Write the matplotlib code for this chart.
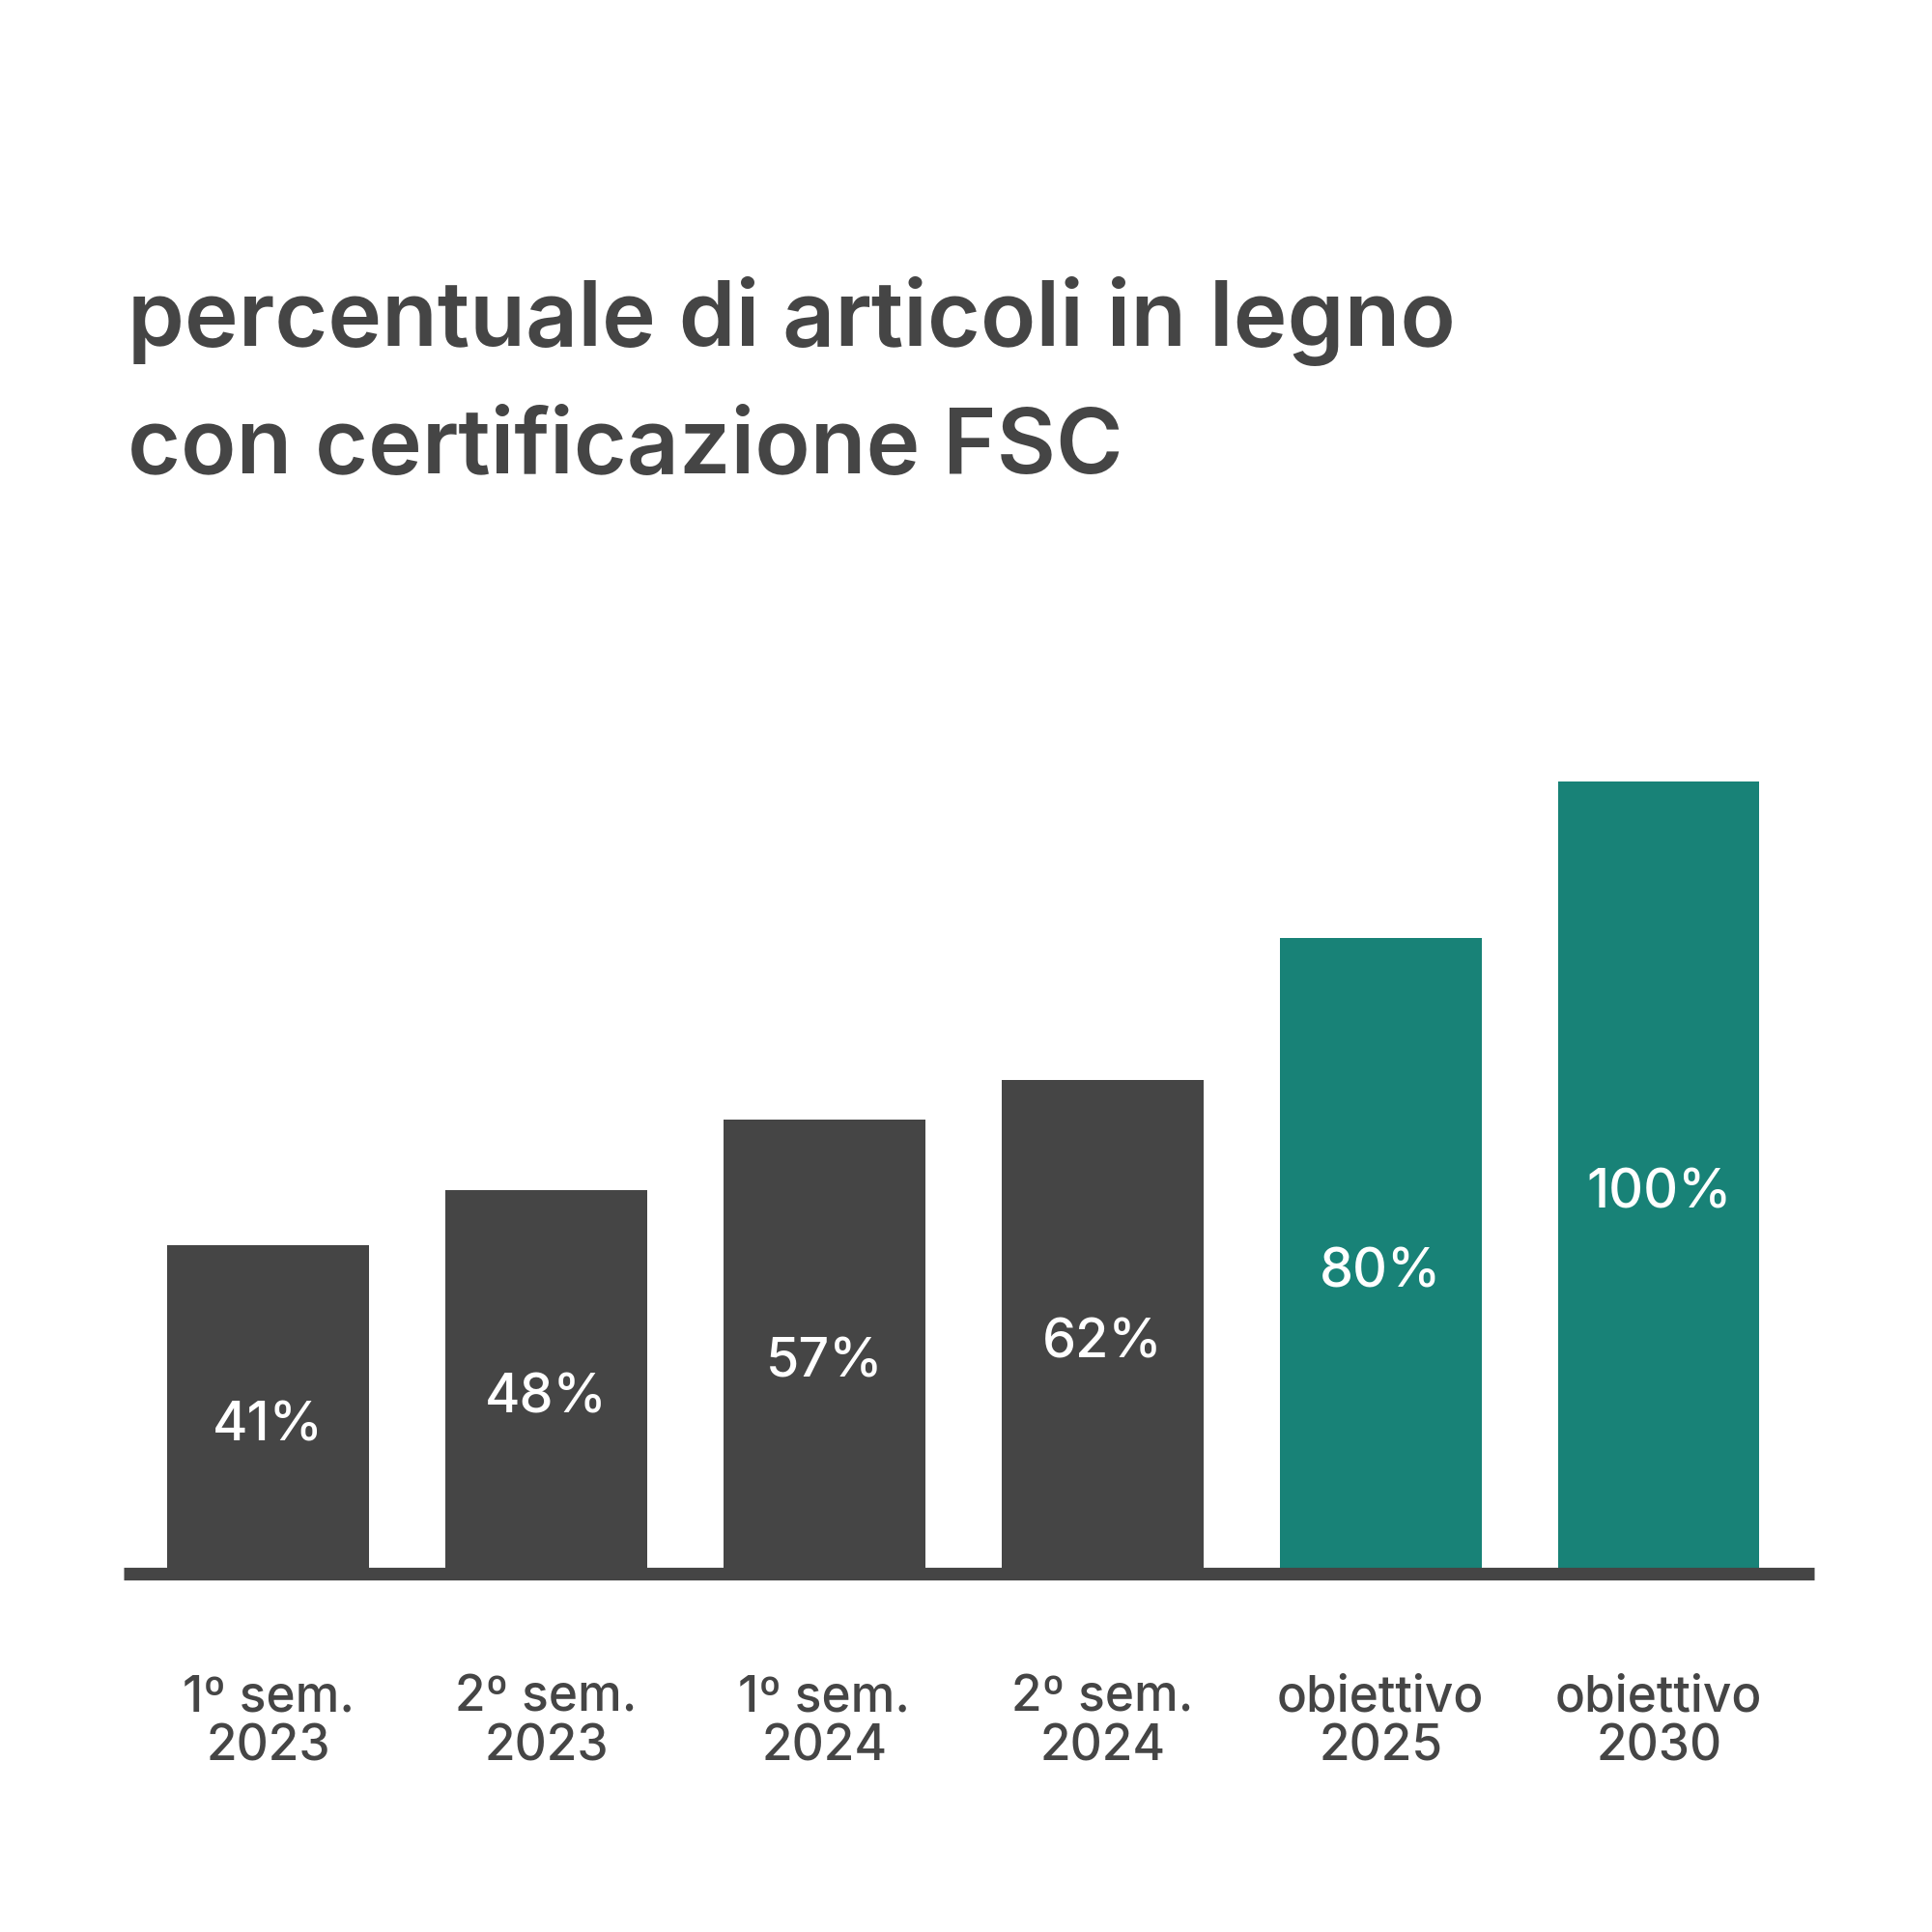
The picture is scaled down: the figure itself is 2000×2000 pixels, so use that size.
import matplotlib.pyplot as plt

categories = ["1º sem.\n2023", "2º sem.\n2023", "1º sem.\n2024", "2º sem.\n2024",
              "obiettivo\n2025", "obiettivo\n2030"]
values = [41, 48, 57, 62, 80, 100]
labels = ["41%", "48%", "57%", "62%", "80%", "100%"]
colors = ["#454545"] * 4 + ["#188277"] * 2

S = 1563.0
fig = plt.figure(figsize=(20, 20), dpi=100)
fig.patch.set_facecolor("white")
ax = fig.add_axes([100 / S, 1 - 1268 / S, 1368 / S, 636 / S])
ax.set_xlim((100 - 217) / 225, (1468 - 217) / 225)
ax.set_ylim(0, 100)
ax.axis("off")

x = list(range(len(values)))
ax.bar(x, values, width=163 / 225, color=colors)
ax.plot([ax.get_xlim()[0], ax.get_xlim()[1]], [-0.8, -0.8], color="#454545",
        linewidth=9.5, solid_capstyle="butt", clip_on=False)

for xi, v, lab in zip(x, values, labels):
    ax.text(xi, v / 2 - 2.5, lab, ha="center", va="center", color="white",
            fontsize=40, fontfamily="Inter", fontweight="medium")

for xi, cat in zip(x, categories):
    ax.text(xi, -19.8, cat, ha="center", va="center", color="#454545",
            fontsize=37, fontfamily="Inter", fontweight="medium", linespacing=1.05,
            clip_on=False)

fig.text(103 / S, 1 - 280 / S, "percentuale di articoli in legno", ha="left",
         va="baseline", color="#454545", fontsize=68, fontfamily="Inter",
         fontweight="semibold")
fig.text(103 / S, 1 - 383 / S, "con certificazione FSC", ha="left",
         va="baseline", color="#454545", fontsize=68, fontfamily="Inter",
         fontweight="semibold")

fig.savefig("out.png", dpi=100, facecolor="white")
